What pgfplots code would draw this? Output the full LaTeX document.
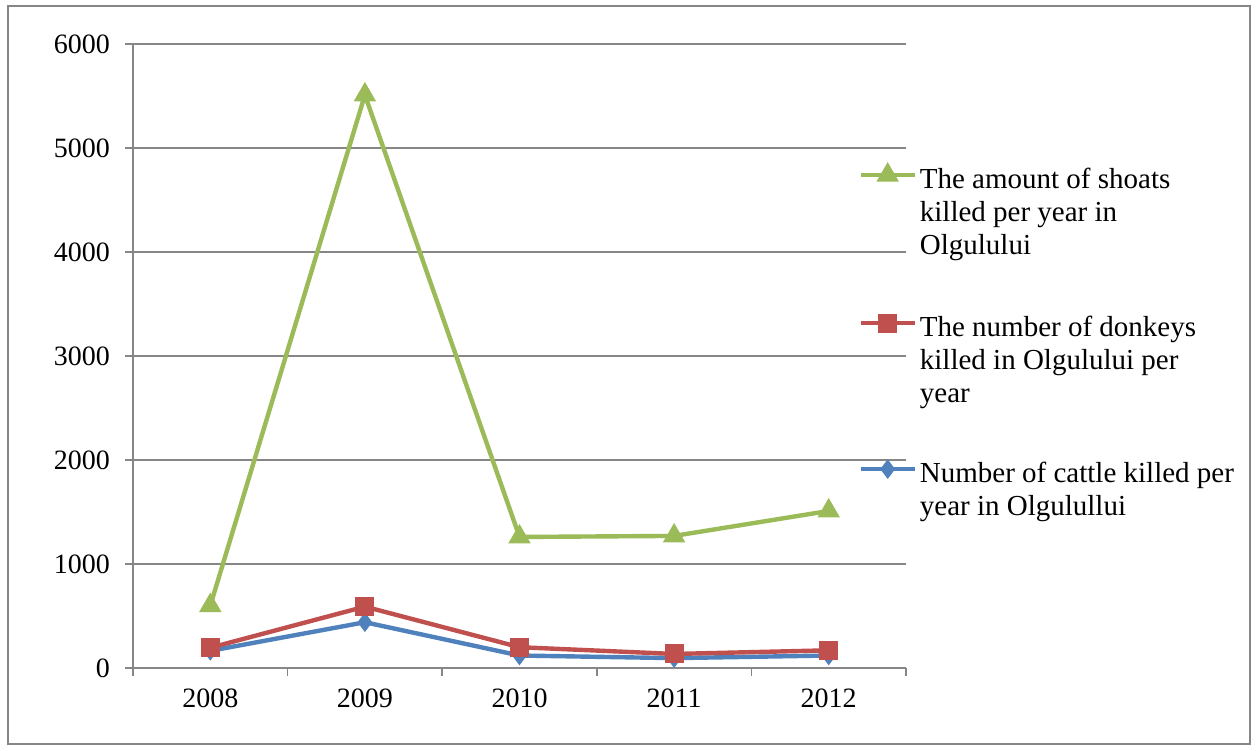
\documentclass[border=0pt]{standalone}
\usepackage{pgfplots}
\pgfplotsset{compat=1.18}
\usepackage{fontspec}
\setmainfont{Liberation Serif}
\definecolor{cgreen}{RGB}{155,187,89}
\definecolor{cred}{RGB}{192,80,77}
\definecolor{cblue}{RGB}{79,129,189}
\definecolor{cgrid}{RGB}{134,134,134}
\newcommand{\ls}{\rule{0pt}{15pt}}
\begin{document}
\begin{tikzpicture}
\path (0pt,0pt) rectangle (629pt,375pt);
\draw[cgrid, line width=1pt] (4pt,3pt) rectangle (625pt,372pt);
\begin{axis}[
  at={(66.5pt,41pt)}, anchor=south west,
  scale only axis, width=386.5pt, height=312pt,
  xmin=-0.5, xmax=4.5, ymin=0, ymax=6000,
  axis x line*=bottom, axis y line*=left,
  axis line style={cgrid, line width=0.8pt},
  xtick={0,1,2,3,4},
  xticklabels={2008,2009,2010,2011,2012},
  major x tick style={draw=none},
  minor xtick={-0.5,0.5,1.5,2.5,3.5,4.5},
  minor x tick style={cgrid, line width=0.8pt},
  minor tick length=4pt,
  ytick={0,1000,...,6000},
  major tick length=4pt,
  tick align=outside,
  y tick style={cgrid, line width=0.8pt},
  ymajorgrids=true,
  grid style={cgrid, line width=0.8pt},
  yticklabel style={/pgf/number format/1000 sep={}},
  /pgf/number format/assume math mode=true,
  ticklabel style={font=\fontsize{14pt}{17pt}\selectfont},
  xticklabel style={yshift=-3pt},
  yticklabel style={xshift=-4pt},
  clip=false,
  legend cell align=left,
  legend image code/.code={\draw[mark repeat=2,mark phase=2,#1] plot coordinates {(0pt,0pt)(13.5pt,0pt)(27pt,0pt)};},
  legend style={draw=none, fill=none, at={(0.938,0.817)}, anchor=north west,
    font=\fontsize{14.5pt}{16.5pt}\selectfont, row sep=0pt,
    inner sep=0pt, nodes={inner sep=0pt, inner xsep=1.5pt}},
]
\addplot[forget plot, cblue, line width=2.2pt, mark=diamond*, mark size=4.5pt, mark options={solid, line width=0.5pt}] coordinates {(0,165) (1,440) (2,120) (3,95) (4,120)};
\addplot[forget plot, cred, line width=2.2pt, mark=square*, mark size=4.5pt, mark options={solid, line width=0.5pt}] coordinates {(0,195) (1,590) (2,200) (3,135) (4,170)};
\addplot[forget plot, cgreen, line width=2.2pt, mark=triangle*, mark size=6pt, mark options={solid, line width=0.5pt}] coordinates {(0,600) (1,5510) (2,1260) (3,1270) (4,1510)};
\addlegendimage{cgreen, line width=2.2pt, mark=triangle*, mark size=6pt, mark options={solid, line width=0.5pt}}
\addlegendentry{\ls The amount of shoats}
\addlegendimage{empty legend}
\addlegendentry{\ls killed per year in}
\addlegendimage{empty legend}
\addlegendentry{\ls Olgulului}
\addlegendimage{empty legend}
\addlegendentry{\rule{0pt}{23pt}}
\addlegendimage{cred, line width=2.2pt, mark=square*, mark size=4.5pt, mark options={solid, line width=0.5pt}}
\addlegendentry{\ls The number of donkeys}
\addlegendimage{empty legend}
\addlegendentry{\ls killed in Olgulului per}
\addlegendimage{empty legend}
\addlegendentry{\ls year}
\addlegendimage{empty legend}
\addlegendentry{\rule{0pt}{22pt}}
\addlegendimage{cblue, line width=2.2pt, mark=diamond*, mark size=4.5pt, mark options={solid, line width=0.5pt}}
\addlegendentry{\ls Number of cattle killed per}
\addlegendimage{empty legend}
\addlegendentry{\ls year in Olgulullui}
\end{axis}
\end{tikzpicture}
\end{document}
